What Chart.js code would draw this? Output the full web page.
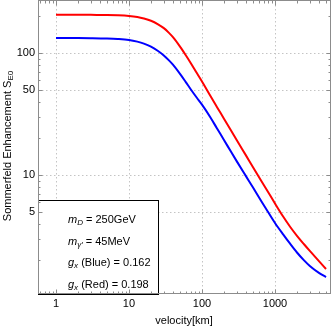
<!DOCTYPE html>
<html>
<head>
<meta charset="utf-8">
<script src="https://cdn.jsdelivr.net/npm/chart.js@4"></script>
<style>
html, body { margin: 0; padding: 0; background: #fff; }
#wrap { width: 332px; height: 328px; }
</style>
</head>
<body>
<div id="wrap"><canvas id="chart"></canvas></div>
<script>
// values (log-log)
const velocity = [1, 2, 3, 5, 7, 10, 13, 16, 20, 25, 30, 35, 40, 50, 60, 70, 85, 100, 130, 160, 200, 250,
                  300, 400, 500, 650, 800, 1000, 1300, 1600, 2000, 2500, 3000, 4000, 5000];
const enhancementRed = [206, 206, 205.5, 205, 204, 201.5, 197.5, 192, 184, 172, 160, 147, 135, 113, 96, 83, 68.5, 58.5,
                        44.6, 36.2, 29, 23.2, 19.3, 14.5, 11.6, 8.95, 7.3, 5.85, 4.55, 3.79, 3.18, 2.71, 2.39, 1.97, 1.70];
const enhancementBlue = [133, 132.8, 132.5, 131.7, 130.5, 128, 124, 119.5, 112.8, 104, 95.6, 87.5, 80.3, 67.5, 57.8, 50.5, 43, 37.8,
                         29.8, 24.2, 19.4, 15.5, 12.95, 9.8, 7.9, 6.1, 5.0, 4.05, 3.25, 2.75, 2.32, 2.0, 1.8, 1.58, 1.46];
const xTickLabels = [1, 10, 100, 1000];
const yTickLabels = [5, 10, 50, 100];
const xMinorTicks = [0.6, 0.7, 0.8, 0.9, 2, 3, 4, 5, 6, 7, 8, 9, 20, 30, 40, 50, 60, 70, 80, 90,
                     200, 300, 400, 500, 600, 700, 800, 900, 2000, 3000, 4000, 5000];
const yMinorTicks = [2, 3, 4, 6, 7, 8, 9, 20, 30, 40, 60, 70, 80, 90, 200];
const xTitle = "velocity[km]";
const yTitle = [["Sommerfeld Enhancement S", ""], ["E0", "sub"]];
const infoLines = [
    [["m", "i"], ["D", "isub"], [" = 250GeV", ""]],
    [["m", "i"], ["\u03B3\u2032", "isub"], [" = 45MeV", ""]],
    [["g", "i"], ["x", "isub"], [" (Blue) = 0.162", ""]],
    [["g", "i"], ["x", "isub"], [" (Red) = 0.198", ""]]
];

const FONT = '"Liberation Sans", Arial, sans-serif';

function pieceFont(style) {
    const sub = style === "sub" || style === "isub";
    const italic = style === "i" || style === "isub";
    return (italic ? "italic " : "") + (sub ? "8px " : "11px ") + FONT;
}

function richWidth(ctx, pieces) {
    let w = 0;
    pieces.forEach(([text, style]) => {
        ctx.font = pieceFont(style);
        w += ctx.measureText(text).width;
    });
    return w;
}

function drawRich(ctx, pieces, x, y) {
    let cx = x;
    pieces.forEach(([text, style]) => {
        const sub = style === "sub" || style === "isub";
        ctx.font = pieceFont(style);
        ctx.fillText(text, cx, sub ? y + 3 : y);
        cx += ctx.measureText(text).width;
    });
}

// grid, frame ticks, tick labels, info box and titles in Mathematica style
const framePlugin = {
    id: "frame",
    beforeDatasetsDraw(chart) {
        const { ctx, chartArea: a, scales: { x, y } } = chart;
        ctx.save();
        ctx.strokeStyle = "#c4c4c4";
        ctx.lineWidth = 1;
        ctx.setLineDash([1.5, 2.5]);
        xTickLabels.forEach(v => {
            const px = Math.round(x.getPixelForValue(v)) + 0.5;
            ctx.beginPath(); ctx.moveTo(px, a.top); ctx.lineTo(px, a.bottom); ctx.stroke();
        });
        yTickLabels.forEach(v => {
            const py = Math.round(y.getPixelForValue(v)) + 0.5;
            ctx.beginPath(); ctx.moveTo(a.left, py); ctx.lineTo(a.right, py); ctx.stroke();
        });
        ctx.restore();
    },
    afterDatasetsDraw(chart) {
        const { ctx, chartArea: a, scales: { x, y } } = chart;
        ctx.save();

        // info box
        const boxRight = 158, boxTop = 200;
        ctx.fillStyle = "#fff";
        ctx.fillRect(a.left, boxTop, boxRight - a.left, a.bottom - boxTop);
        ctx.strokeStyle = "#000";
        ctx.lineWidth = 1;
        ctx.strokeRect(a.left + 0.5, boxTop + 0.5, boxRight - a.left, a.bottom - boxTop);
        ctx.fillStyle = "#000";
        ctx.textBaseline = "middle";
        ctx.textAlign = "left";
        infoLines.forEach((line, i) => drawRich(ctx, line, 68, 220 + i * 21.5));

        // frame
        ctx.strokeStyle = "#8c8c8c";
        ctx.strokeRect(a.left + 0.5, a.top - 0.5, a.right - a.left - 1, a.bottom - a.top);

        // frame ticks on all four sides
        const xtick = (vals, len) => {
            vals.forEach(v => {
                const px = Math.round(x.getPixelForValue(v)) + 0.5;
                if (px > a.left && px < a.right) {
                    ctx.beginPath(); ctx.moveTo(px, a.bottom); ctx.lineTo(px, a.bottom - len); ctx.stroke();
                    ctx.beginPath(); ctx.moveTo(px, a.top); ctx.lineTo(px, a.top + len); ctx.stroke();
                }
            });
        };
        const ytick = (vals, len) => {
            vals.forEach(v => {
                const py = Math.round(y.getPixelForValue(v)) + 0.5;
                if (py > a.top && py < a.bottom) {
                    ctx.beginPath(); ctx.moveTo(a.left, py); ctx.lineTo(a.left + len, py); ctx.stroke();
                    ctx.beginPath(); ctx.moveTo(a.right, py); ctx.lineTo(a.right - len, py); ctx.stroke();
                }
            });
        };
        xtick(xTickLabels, 4.5);
        xtick(xMinorTicks, 2.5);
        ytick(yTickLabels, 4.5);
        ytick(yMinorTicks, 2.5);

        // tick labels
        ctx.fillStyle = "#000";
        ctx.font = "11px " + FONT;
        ctx.textAlign = "center";
        xTickLabels.forEach(v => ctx.fillText(String(v), x.getPixelForValue(v), 304));
        ctx.textAlign = "right";
        yTickLabels.forEach(v => ctx.fillText(String(v), 35, y.getPixelForValue(v)));

        // axis titles
        ctx.textAlign = "center";
        ctx.fillText(xTitle, 184, 321);

        ctx.translate(8, 146);
        ctx.rotate(-Math.PI / 2);
        ctx.textAlign = "left";
        const w = richWidth(ctx, yTitle);
        drawRich(ctx, yTitle, -w / 2, 0);
        ctx.restore();
    }
};

function buildChart() {
    const ctx = document.getElementById("chart").getContext("2d");
    new Chart(ctx, {
        type: "line",
        data: {
            datasets: [{
                label: "Blue",
                data: velocity.map((v, i) => ({ x: v, y: enhancementBlue[i] })),
                borderColor: "#0000ff",
                borderWidth: 2,
                pointRadius: 0,
                cubicInterpolationMode: "monotone",
                fill: false
            }, {
                label: "Red",
                data: velocity.map((v, i) => ({ x: v, y: enhancementRed[i] })),
                borderColor: "#ff0000",
                borderWidth: 2,
                pointRadius: 0,
                cubicInterpolationMode: "monotone",
                fill: false
            }]
        },
        options: {
            responsive: true,
            maintainAspectRatio: false,
            animation: false,
            layout: { padding: { top: 1, right: 1, left: 38, bottom: 34 } },
            plugins: { legend: { display: false }, tooltip: { enabled: false } },
            scales: {
                x: { type: "logarithmic", min: 0.567, max: 5850, display: false },
                y: { type: "logarithmic", min: 1.06, max: 267, display: false }
            }
        },
        plugins: [framePlugin]
    });
}

window.addEventListener("load", buildChart);
</script>
</body>
</html>
